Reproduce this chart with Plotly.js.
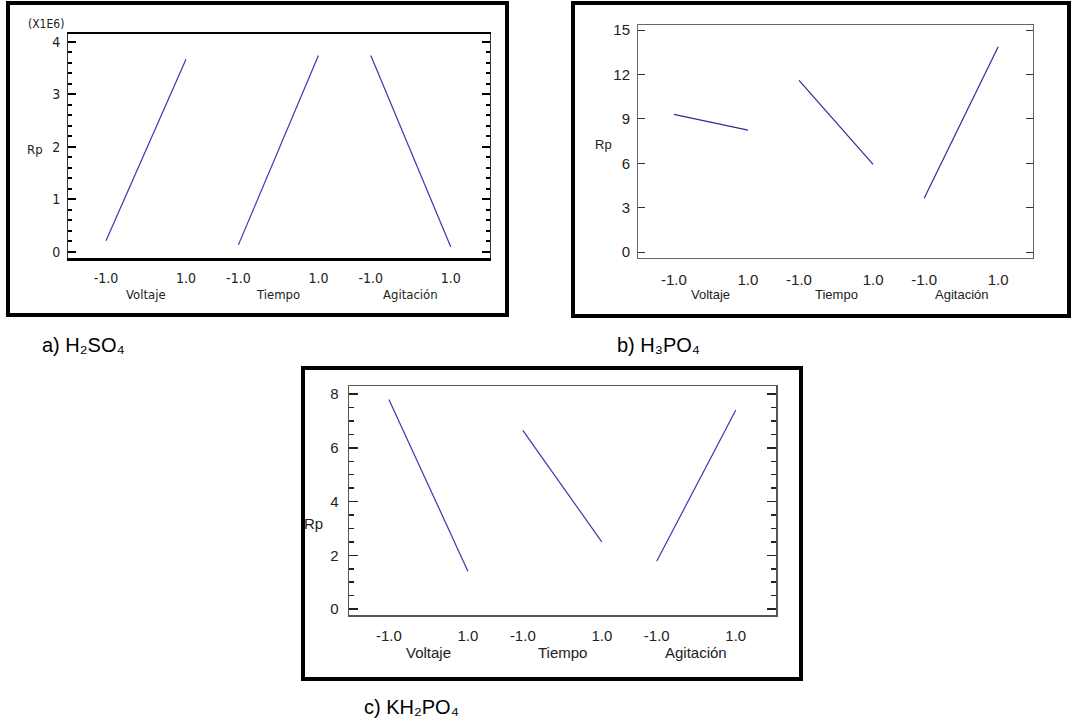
<!DOCTYPE html>
<html>
<head>
<meta charset="utf-8">
<script src="https://cdn.plot.ly/plotly-3.0.1.min.js"></script>
<style>html,body{margin:0;padding:0;background:#fff;}#chart{width:1073px;height:725px;}</style>
</head>
<body>
<div id="chart"></div>
<script>
// ---- data ----
const factors = ['Voltaje', 'Tiempo', 'Agitación'];
const levels = [-1, 1];
const levelLabels = ['-1.0', '1.0'];
// a) H2SO4 (Rp x 1E6)
const rpA_low  = [0.21, 0.13, 3.74];
const rpA_high = [3.67, 3.74, 0.09];
// b) H3PO4
const rpB_low  = [9.3, 11.6, 3.63];
const rpB_high = [8.24, 5.93, 13.87];
// c) KH2PO4
const rpC_low  = [7.8, 6.65, 1.78];
const rpC_high = [1.41, 2.5, 7.4];
const captions = ['a) H₂SO₄', 'b) H₃PO₄', 'c) KH₂PO₄'];

// ---- layout helpers ----
const W = 1073, H = 725;
const px = v => v / W;
const py = v => 1 - v / H;

const panels = [
  {ax: '', low: rpA_low, high: rpA_high, gap: 3.31, xr: [-1.95, 8.6], yr: [-0.12, 4.15],
   dom: [68, 490, 34, 258], color: '#3838b0', font: "'Liberation Sans Narrow','DejaVu Sans Condensed',sans-serif",
   tickSize: 14, labSize: 13, labY: 295, rp: [35, 149]},
  {ax: '2', low: rpB_low, high: rpB_high, gap: 3.38, xr: [-1.97, 8.7], yr: [-0.4, 15.34],
   dom: [638, 1033, 25, 258], color: '#2c2c98', font: "'Liberation Sans',Arial,sans-serif",
   tickSize: 15, labSize: 13, labY: 295, rp: [603, 144]},
  {ax: '3', low: rpC_low, high: rpC_high, gap: 3.39, xr: [-2.01, 8.8], yr: [-0.22, 8.3],
   dom: [349, 776, 386, 615], color: '#3838b0', font: "'Liberation Sans',Arial,sans-serif",
   tickSize: 15, labSize: 15, labY: 652, rp: [313, 523]}
];

const traces = [];
const layout = {
  width: W, height: H, margin: {l: 0, r: 0, t: 0, b: 0},
  paper_bgcolor: '#fff', plot_bgcolor: '#fff', showlegend: false,
  annotations: [], shapes: []
};

panels.forEach((p, k) => {
  const tv = [], tt = [];
  factors.forEach((f, i) => {
    const xs = levels.map(l => i * p.gap + l);
    traces.push({
      type: 'scatter', mode: 'lines', x: xs, y: [p.low[i], p.high[i]],
      xaxis: 'x' + p.ax, yaxis: 'y' + p.ax, line: {color: p.color, width: 1.2},
      hoverinfo: 'skip'
    });
    xs.forEach((x, j) => { tv.push(x); tt.push(levelLabels[j]); });
    layout.annotations.push({
      xref: 'x' + p.ax, yref: 'paper', x: i * p.gap, y: py(p.labY),
      text: f, showarrow: false, xanchor: 'center', yanchor: 'middle',
      font: {family: p.font, size: p.labSize, color: '#222'}
    });
  });
  const xa = {
    domain: [px(p.dom[0]), px(p.dom[1])], range: p.xr, anchor: 'y' + p.ax,
    tickmode: 'array', tickvals: tv, ticktext: tt, ticks: '', showgrid: false, zeroline: false,
    showline: true, mirror: true, fixedrange: true,
    tickfont: {family: p.font, size: p.tickSize, color: '#222'}
  };
  const ya = {
    domain: [py(p.dom[3]), py(p.dom[2])], range: p.yr, anchor: 'x' + p.ax,
    showgrid: false, zeroline: false, showline: true, mirror: 'allticks',
    ticks: 'inside', fixedrange: true,
    tickfont: {family: p.font, size: p.tickSize, color: '#222'}
  };
  if (k === 0) {
    Object.assign(xa, {linecolor: '#000', linewidth: 2.5, ticklabelstandoff: 6});
    Object.assign(ya, {linecolor: '#333', linewidth: 1, dtick: 1, tick0: 0, ticklen: 8, tickwidth: 2, tickcolor: '#000',
      ticklabelstandoff: 4, minor: {dtick: 0.2, ticklen: 4, tickwidth: 2, tickcolor: '#000', ticks: 'inside'}});
  } else if (k === 1) {
    Object.assign(xa, {linecolor: '#666', linewidth: 1, ticklabelstandoff: 8});
    Object.assign(ya, {linecolor: '#666', linewidth: 1, dtick: 3, tick0: 0, ticklen: 7, tickwidth: 1, tickcolor: '#333',
      ticklabelstandoff: 4});
  } else {
    Object.assign(xa, {linecolor: '#555', linewidth: 1.5, ticklabelstandoff: 6});
    Object.assign(ya, {linecolor: '#555', linewidth: 1.5, dtick: 2, tick0: 0, ticklen: 9, tickwidth: 1.5, tickcolor: '#222',
      ticklabelstandoff: 6, minor: {dtick: 0.5, ticklen: 5, tickwidth: 1.5, tickcolor: '#222', ticks: 'inside'}});
  }
  layout['xaxis' + p.ax] = xa;
  layout['yaxis' + p.ax] = ya;
  layout.annotations.push({
    xref: 'paper', yref: 'paper', x: px(p.rp[0]), y: py(p.rp[1]), text: 'Rp', showarrow: false,
    xanchor: 'center', yanchor: 'middle', font: {family: p.font, size: p.labSize, color: '#222'}
  });
});

// exponent note on panel a
layout.annotations.push({
  xref: 'paper', yref: 'paper', x: px(46), y: py(24), text: '(X1E6)', showarrow: false,
  xanchor: 'center', yanchor: 'middle',
  font: {family: "'Liberation Sans Narrow','DejaVu Sans Condensed',sans-serif", size: 12, color: '#222'}
});

// panel frames
const frames = [[8, 507, 3, 315], [573, 1069, 3, 316], [303, 801, 368, 679]];
frames.forEach(f => layout.shapes.push({
  type: 'rect', xref: 'paper', yref: 'paper', x0: px(f[0]), x1: px(f[1]), y0: py(f[3]), y1: py(f[2]),
  line: {color: '#000', width: 4}, fillcolor: 'rgba(0,0,0,0)', layer: 'below'
}));

// captions
const capPos = [[40, 345], [615, 345], [362, 707]];
captions.forEach((c, i) => layout.annotations.push({
  xref: 'paper', yref: 'paper', x: px(capPos[i][0]), y: py(capPos[i][1]), text: c, showarrow: false,
  xanchor: 'left', yanchor: 'middle', font: {family: "'Liberation Sans',Arial,sans-serif", size: 20, color: '#000'}
}));

Plotly.newPlot('chart', traces, layout, {displayModeBar: false, staticPlot: true});
</script>
</body>
</html>
